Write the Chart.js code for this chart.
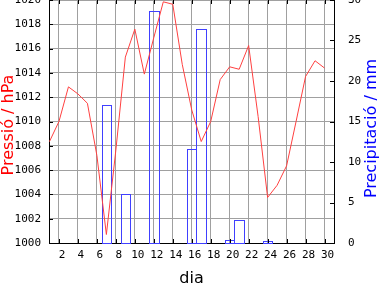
<!DOCTYPE html>
<html>
<head>
<meta charset="utf-8">
<script src="https://cdn.jsdelivr.net/npm/chart.js@4.4.0/dist/chart.umd.min.js"></script>
<style>
  html, body { margin: 0; padding: 0; background: #fff; }
  canvas { display: block; }
</style>
</head>
<body>
<canvas id="meteoChart" width="384" height="288"></canvas>
<script>
// Dades del mes
const days = [1, 2, 3, 4, 5, 6, 7, 8, 9, 10, 11, 12, 13, 14, 15,
              16, 17, 18, 19, 20, 21, 22, 23, 24, 25, 26, 27, 28, 29, 30];
const pressure = [1008.35, 1010.0, 1012.85, 1012.27, 1011.5, 1007.2, 1000.7, 1007.65, 1015.3, 1017.6,
                  1013.9, 1016.9, 1019.85, 1019.65, 1014.7, 1010.95, 1008.35, 1010.0, 1013.45, 1014.5,
                  1014.3, 1016.25, 1010.4, 1003.75, 1004.75, 1006.35, 1010.0, 1013.7, 1015.0, 1014.4];
const precipitation = [null, null, null, null, null, null, 17.0, null, 6.0, null,
                       null, 28.6, null, null, null, 11.6, 26.4, null, null, 0.4,
                       2.9, null, null, 0.2, null, null, null, null, null, null];
const dayTicks = [2, 4, 6, 8, 10, 12, 14, 16, 18, 20, 22, 24, 26, 28, 30];
const pressureTicks = [1000, 1002, 1004, 1006, 1008, 1010, 1012, 1014, 1016, 1018, 1020];
const precipTicks = [0, 5, 10, 15, 20, 25, 30];

const tickFont = { family: 'DejaVu Sans Mono', size: 11 };
const titleFont = { family: 'DejaVu Sans', size: 16 };

// barres buides amb contorn nítid (posicions calculades per Chart.js)
const crispBars = {
    id: 'crispBars',
    beforeDatasetDraw(chart, args) {
        const meta = args.meta;
        if (meta.type !== 'bar') return;
        const ctx = chart.ctx;
        ctx.save();
        ctx.strokeStyle = '#4040ff';
        ctx.lineWidth = 1;
        meta.data.forEach((el, i) => {
            if (precipitation[i] == null || !isFinite(el.y)) return;
            const l = Math.round(el.x - el.width / 2);
            const r = Math.round(el.x + el.width / 2);
            const t = Math.round(el.y);
            const b = Math.round(el.base);
            ctx.strokeRect(l + 0.5, t + 0.5, r - l, b - t);
        });
        ctx.restore();
        return false;
    }
};

// marques petites cap a dins + títols verticals
const innerTicks = {
    id: 'innerTicks',
    afterDraw(chart) {
        const { ctx, chartArea: a, scales } = chart;
        const len = 4;
        ctx.save();
        ctx.strokeStyle = '#000';
        ctx.lineWidth = 1;
        ctx.beginPath();
        scales.x.ticks.forEach(t => {
            const px = Math.round(scales.x.getPixelForValue(t.value)) + 0.5;
            ctx.moveTo(px, a.bottom); ctx.lineTo(px, a.bottom - len);
            ctx.moveTo(px, a.top); ctx.lineTo(px, a.top + len);
        });
        scales.y.ticks.forEach(t => {
            const py = Math.round(scales.y.getPixelForValue(t.value)) + 0.5;
            ctx.moveTo(a.left, py); ctx.lineTo(a.left + len, py);
        });
        scales.y1.ticks.forEach(t => {
            const py = Math.round(scales.y1.getPixelForValue(t.value)) + 0.5;
            ctx.moveTo(a.right, py); ctx.lineTo(a.right - len, py);
        });
        ctx.stroke();

        ctx.font = '16px "DejaVu Sans"';
        ctx.textAlign = 'center';
        ctx.textBaseline = 'alphabetic';
        ctx.fillStyle = '#ff0000';
        ctx.translate(12.7, 125);
        ctx.rotate(-Math.PI / 2);
        ctx.fillText('Pressió / hPa', 0, 0);
        ctx.setTransform(1, 0, 0, 1, 0, 0);
        ctx.fillStyle = '#0000ff';
        ctx.translate(376, 128.5);
        ctx.rotate(-Math.PI / 2);
        ctx.fillText('Precipitació / mm', 0, 0);
        ctx.restore();
    }
};

function initMeteoChart() {
    const ctx = document.getElementById('meteoChart');
    if (!ctx) return;

    new Chart(ctx, {
        data: {
            datasets: [{
                type: 'line',
                label: 'Pressió',
                data: days.map((d, i) => ({ x: d, y: pressure[i] })),
                borderColor: '#ff4040',
                borderWidth: 1,
                pointRadius: 0,
                tension: 0,
                yAxisID: 'y'
            }, {
                type: 'bar',
                label: 'Precipitació',
                data: days.map((d, i) => ({ x: d, y: precipitation[i] })),
                backgroundColor: 'rgba(0,0,0,0)',
                borderColor: '#4040ff',
                borderWidth: 1,
                borderSkipped: false,
                barPercentage: 1,
                categoryPercentage: 1,
                yAxisID: 'y1'
            }]
        },
        options: {
            responsive: false,
            maintainAspectRatio: false,
            animation: false,
            devicePixelRatio: 1,
            layout: { padding: 0 },
            plugins: {
                legend: { display: false },
                tooltip: { enabled: false }
            },
            scales: {
                x: {
                    type: 'linear',
                    offset: false,
                    min: 0.95,
                    max: 31,
                    afterBuildTicks: s => { s.ticks = dayTicks.map(v => ({ value: v })); },
                    afterFit: s => { s.height = 45; s.paddingLeft = 0; s.paddingRight = 0; },
                    grid: { color: '#a0a0a0', drawTicks: false, offset: false },
                    border: { color: '#000' },
                    ticks: { font: tickFont, color: '#000', padding: 6, labelOffset: 3, maxRotation: 0, autoSkip: false,
                             callback: v => String(v) },
                    title: { display: true, text: 'dia', font: titleFont, color: '#000', padding: { top: 2, bottom: 0 } }
                },
                y: {
                    position: 'left',
                    min: 1000,
                    max: 1020,
                    afterBuildTicks: s => { s.ticks = pressureTicks.map(v => ({ value: v })); },
                    afterFit: s => { s.width = 49; s.paddingTop = 0; s.paddingBottom = 0; },
                    grid: { color: '#a0a0a0', drawTicks: false },
                    border: { color: '#000' },
                    ticks: { font: tickFont, color: '#000', padding: 8, callback: v => String(v) }
                },
                y1: {
                    position: 'right',
                    min: 0,
                    max: 30,
                    afterBuildTicks: s => { s.ticks = precipTicks.map(v => ({ value: v })); },
                    afterFit: s => { s.width = 50; s.paddingTop = 0; s.paddingBottom = 0; },
                    grid: { display: false, drawTicks: false },
                    border: { color: '#000' },
                    ticks: { font: tickFont, color: '#000', padding: 14, callback: v => String(v) }
                }
            }
        },
        plugins: [crispBars, innerTicks]
    });
}

if (document.readyState === 'complete') {
    initMeteoChart();
} else {
    document.addEventListener('DOMContentLoaded', initMeteoChart);
}
</script>
</body>
</html>
